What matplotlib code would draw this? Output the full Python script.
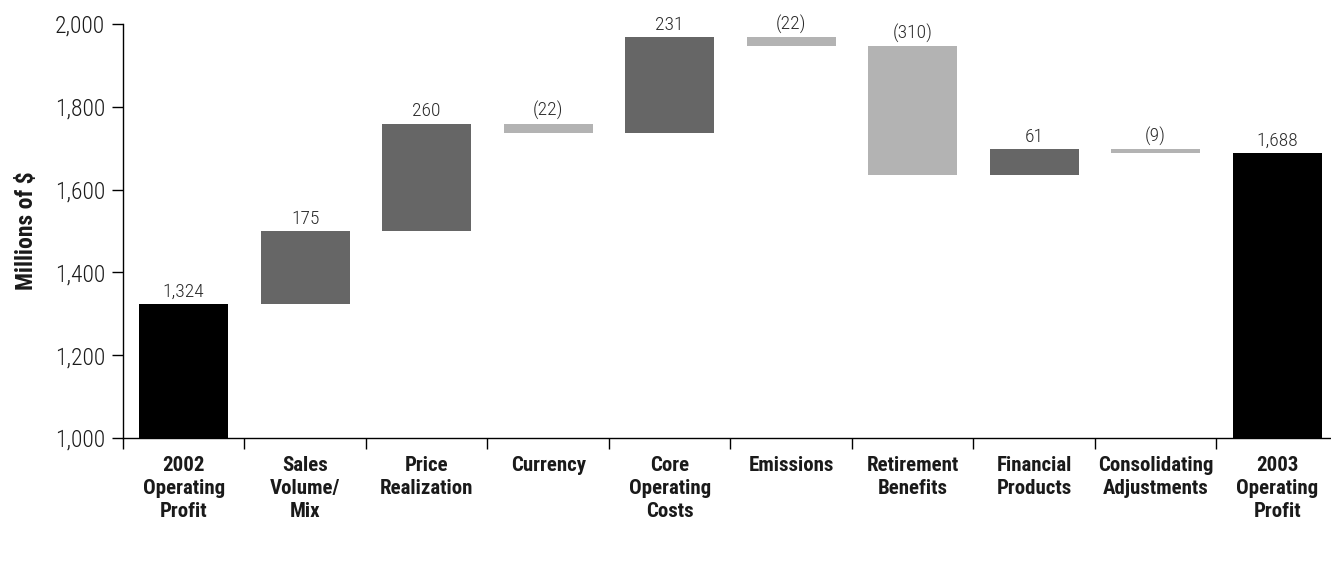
import numpy as np
import matplotlib.pyplot as plt
from matplotlib import font_manager

# operating profit bridge, 2002 -> 2003 (millions of $)
categories = ["2002\nOperating\nProfit", "Sales\nVolume/\nMix", "Price\nRealization",
              "Currency", "Core\nOperating\nCosts", "Emissions", "Retirement\nBenefits",
              "Financial\nProducts", "Consolidating\nAdjustments", "2003\nOperating\nProfit"]
values = [1324, 175, 260, -22, 231, -22, -310, 61, -9, 1688]
is_total = [True, False, False, False, False, False, False, False, False, True]

# pick a narrow sans that has a real bold face
bold_fams = {f.name for f in font_manager.fontManager.ttflist if f.weight in (700, "bold")}
fam = "DejaVu Sans"
for cand in ["Nimbus Sans Narrow", "Liberation Sans Narrow", "Roboto Condensed",
             "Arimo Narrow", "PT Sans Narrow", "Archivo Narrow"]:
    if cand in bold_fams:
        fam = cand
        break
plt.rcParams['font.family'] = [fam, 'DejaVu Sans']
plt.rcParams['font.stretch'] = 'condensed'

fig = plt.figure(figsize=(13.31, 5.65), dpi=100)
ax = fig.add_axes([123/1331, 127/565, 1 - 123/1331, (438-24)/565])

x = np.arange(len(values))
bottoms, heights, colors, tops = [], [], [], []
run = 0
for v, tot in zip(values, is_total):
    if tot:
        bottoms.append(1000)
        heights.append(v - 1000)
        colors.append("#000000")
        tops.append(v)
        run = v
    else:
        lo, hi = min(run, run + v), max(run, run + v)
        bottoms.append(lo)
        heights.append(hi - lo)
        colors.append("#666666" if v > 0 else "#b3b3b3")
        tops.append(hi)
        run += v

ax.bar(x, heights, bottom=bottoms, width=0.73, color=colors, zorder=2)

for xi, v, t in zip(x, values, tops):
    txt = f"{v:,}" if v >= 0 else f"({-v:,})"
    ax.text(xi, t + 8, txt, ha="center", va="bottom", fontsize=14, fontweight="light",
            color="#2a2a2a", clip_on=False)

ax.set_ylim(1000, 2000)
ax.set_xlim(-0.5, 9.5 - 7/121.6)
ax.set_yticks(np.arange(1000, 2001, 200))
ax.set_yticklabels([f"{t:,}" for t in range(1000, 2001, 200)], fontsize=17,
                   fontweight="light", color="#1a1a1a")
ax.set_xticks(x)
ax.set_xticklabels(categories, fontsize=15, fontweight="bold", linespacing=1.25, va="top",
                   color="#1a1a1a")
ax.set_xticks(np.arange(-0.5, 9.5, 1), minor=True)
ax.tick_params(axis="x", which="major", length=0, pad=13)
ax.tick_params(axis="x", which="minor", length=8, width=1, direction="out")
ax.tick_params(axis="y", length=8, width=1, direction="out", pad=5)
ax.set_ylabel("Millions of $", fontsize=17, fontweight="bold", labelpad=12, color="#1a1a1a")

for s in ["top", "right"]:
    ax.spines[s].set_visible(False)
for s in ["left", "bottom"]:
    ax.spines[s].set_linewidth(1)

fig.savefig("out.png", dpi=100)
